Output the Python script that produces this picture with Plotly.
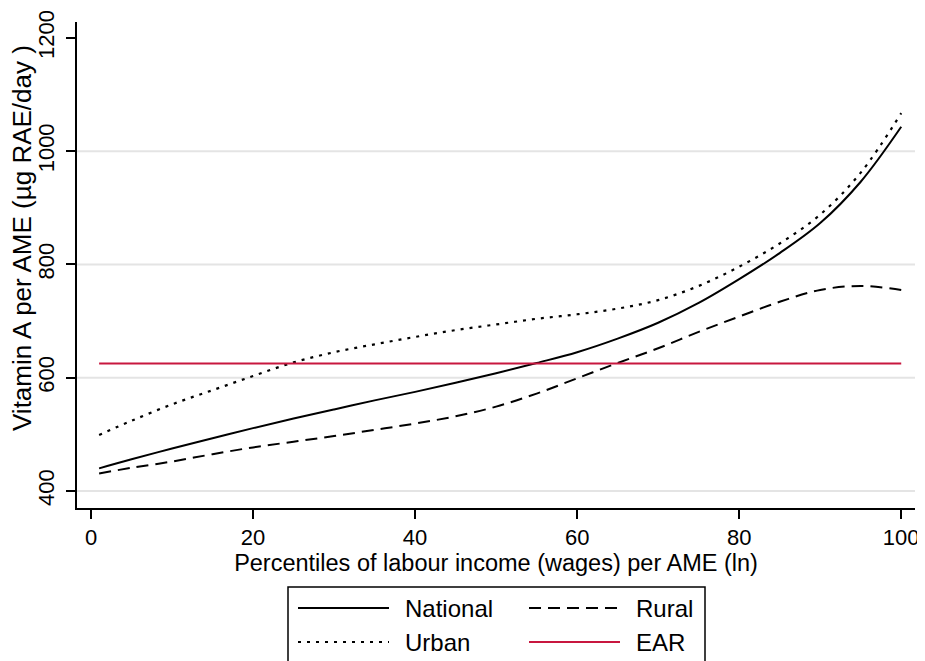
import plotly.graph_objects as go

# ---- data ----
percentiles = [1, 5, 10, 15, 20, 25, 30, 35, 40, 45, 50, 55, 60, 65, 70, 75, 80, 85, 90, 95, 100]
national = [440, 456, 475, 493, 511, 528, 544, 560, 575, 591, 608, 626, 645, 669, 697, 732, 774, 820, 873, 946, 1043]
urban = [499, 524, 553, 578, 603, 627, 645, 659, 672, 684, 694, 704, 712, 722, 737, 762, 796, 837, 888, 962, 1067]
rural = [431, 441, 452, 465, 477, 487, 497, 508, 519, 532, 549, 572, 599, 626, 652, 681, 708, 734, 755, 762, 755]
ear_value = 625
ear_x = [1, 100]

y_ticks = [400, 600, 800, 1000, 1200]
grid_values = [400, 600, 800, 1000]
x_ticks = [0, 20, 40, 60, 80, 100]

FONT = "Liberation Sans, Arial, Helvetica, sans-serif"
RED = "#C8173F"
SM = 1.0

fig = go.Figure()
fig.add_trace(go.Scatter(x=percentiles, y=national, mode="lines", name="National",
                         line=dict(color="black", width=2, shape="spline", smoothing=SM)))
fig.add_trace(go.Scatter(x=percentiles, y=rural, mode="lines", name="Rural",
                         line=dict(color="black", width=2, dash="12px,7px", shape="spline", smoothing=SM)))
fig.add_trace(go.Scatter(x=percentiles, y=urban, mode="lines", name="Urban",
                         line=dict(color="black", width=2.2, dash="3px,6px", shape="spline", smoothing=SM)))
fig.add_trace(go.Scatter(x=ear_x, y=[ear_value, ear_value], mode="lines", name="EAR",
                         line=dict(color=RED, width=2)))

# page has an 8px body margin; work in window pixels and shift
OFF = 8
W, H = 925 - OFF, 661 - OFF
LEFT, RIGHT, TOP, BOTTOM = 77, 915, 22, 508  # plot area in window pixels
ML, MT = LEFT - OFF, TOP - OFF
MR = W - (RIGHT - OFF)
MB = H - (BOTTOM - OFF)
PW, PH = RIGHT - LEFT, BOTTOM - TOP


def px(x):
    return (x - LEFT) / PW


def py(y):
    return (BOTTOM - y) / PH


shapes = []
for g in grid_values:
    shapes.append(dict(type="line", xref="paper", yref="y", x0=0, x1=1, y0=g, y1=g,
                       line=dict(color="#e4e4e4", width=2), layer="below"))

# custom legend box
shapes.append(dict(type="rect", xref="paper", yref="paper", x0=px(288), x1=px(705),
                   y0=py(587), y1=py(680), line=dict(color="black", width=1.5)))
legend_items = [
    ("National", 298, 389, 608, dict(color="black", width=2)),
    ("Rural", 529, 620, 608, dict(color="black", width=2, dash="12px,7px")),
    ("Urban", 298, 389, 642, dict(color="black", width=2, dash="3px,6px")),
    ("EAR", 529, 620, 642, dict(color=RED, width=2)),
]
annotations = []
for name, x0, x1, yy, ln in legend_items:
    shapes.append(dict(type="line", xref="paper", yref="paper", x0=px(x0), x1=px(x1),
                       y0=py(yy), y1=py(yy), line=ln))
    annotations.append(dict(text=name, xref="paper", yref="paper", x=px(x1 + 14), y=py(yy),
                            xanchor="left", yanchor="middle", showarrow=False,
                            font=dict(family=FONT, size=24, color="black")))

# y axis title placed precisely
annotations.append(dict(text="Vitamin A per AME (µg RAE/day )", xref="paper", yref="paper",
                        x=px(22), y=py(238), xanchor="center", yanchor="middle",
                        textangle=-90, showarrow=False,
                        font=dict(family=FONT, size=26, color="black")))

fig.update_layout(
    width=W, height=H,
    margin=dict(l=ML, r=MR, t=MT, b=MB, autoexpand=False),
    paper_bgcolor="white", plot_bgcolor="white",
    showlegend=False,
    font=dict(family=FONT, size=22, color="black"),
    shapes=shapes, annotations=annotations,
    xaxis=dict(range=[-1.73, 101.7], tickvals=x_ticks, showgrid=False, zeroline=False,
               showline=True, linecolor="black", linewidth=1.5,
               ticks="outside", ticklen=9, tickwidth=1.5, tickcolor="black",
               tickfont=dict(family=FONT, size=22, color="black"),
               title=dict(text="Percentiles of labour income (wages) per AME (ln)",
                          font=dict(family=FONT, size=23.5, color="black"), standoff=2)),
    yaxis=dict(range=[370, 1228], tickvals=y_ticks, showgrid=False, zeroline=False,
               showline=True, linecolor="black", linewidth=1.5,
               ticks="outside", ticklen=9, tickwidth=1.5, tickcolor="black",
               tickangle=-90, ticklabelstandoff=3,
               tickfont=dict(family=FONT, size=22, color="black")),
)

fig.write_html("out.html")
